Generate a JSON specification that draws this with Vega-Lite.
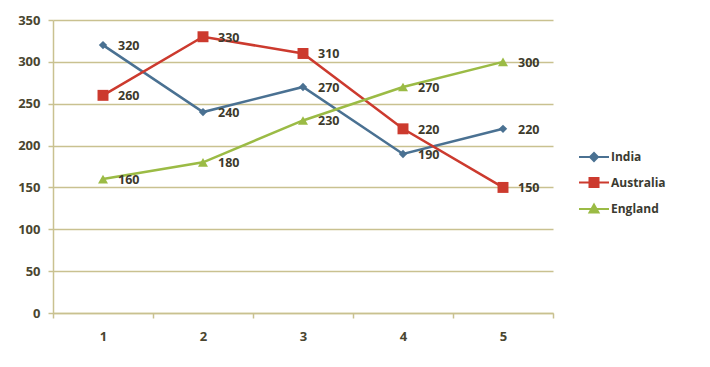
{
  "$schema": "https://vega.github.io/schema/vega-lite/v6.json",
  "width": 500,
  "height": 293,
  "autosize": {"type": "none"},
  "padding": {"left": 53, "top": 20, "right": 157, "bottom": 54},
  "background": "white",
  "config": {
    "view": {"stroke": null},
    "font": "Open Sans",
    "axis": {
      "labelFont": "Open Sans", "labelFontSize": 13, "labelFontWeight": "bold", "labelColor": "#4a4630",
      "domainColor": "#c9c190", "domainWidth": 1.5, "tickColor": "#c9c190", "tickWidth": 1.5,
      "gridColor": "#c9c190", "gridWidth": 1.5, "title": null
    }
  },
  "data": {"values": [
    {"series": "India", "x": 1, "value": 320},
    {"series": "India", "x": 2, "value": 240},
    {"series": "India", "x": 3, "value": 270},
    {"series": "India", "x": 4, "value": 190},
    {"series": "India", "x": 5, "value": 220},
    {"series": "Australia", "x": 1, "value": 260},
    {"series": "Australia", "x": 2, "value": 330},
    {"series": "Australia", "x": 3, "value": 310},
    {"series": "Australia", "x": 4, "value": 220},
    {"series": "Australia", "x": 5, "value": 150},
    {"series": "England", "x": 1, "value": 160},
    {"series": "England", "x": 2, "value": 180},
    {"series": "England", "x": 3, "value": 230},
    {"series": "England", "x": 4, "value": 270},
    {"series": "England", "x": 5, "value": 300}
  ]},
  "encoding": {
    "x": {"field": "x", "type": "ordinal",
      "scale": {"type": "band", "paddingInner": 0, "paddingOuter": 0},
      "axis": {"labelAngle": 0, "tickBand": "extent", "tickSize": 5, "labelPadding": 12, "grid": false}},
    "y": {"field": "value", "type": "quantitative",
      "scale": {"domain": [0, 350], "nice": false},
      "axis": {"values": [0, 50, 100, 150, 200, 250, 300, 350], "tickSize": 5, "labelPadding": 8, "grid": true}}
  },
  "layer": [
    {
      "mark": {"type": "line", "strokeWidth": 2.5},
      "encoding": {
        "color": {"field": "series", "type": "nominal",
          "sort": ["India", "Australia", "England"],
          "scale": {"domain": ["India", "Australia", "England"], "range": ["#4a7192", "#cc3a2e", "#9bbb45"]},
          "legend": {
            "title": null, "orient": "none", "legendX": 530, "legendY": 126, "padding": 0,
            "symbolSize": 400, "symbolStrokeWidth": 2, "labelOffset": 6, "rowPadding": 6.5,
            "labelFont": "Open Sans", "labelFontSize": 12, "labelFontWeight": "bold", "labelColor": "#3a3a30",
            "encode": {"symbols": {"update": {
              "shape": {"signal": "datum.value === 'India' ? 'M-1.5,0H1.5M-0.4,0L0,-0.4L0.4,0L0,0.4Z' : datum.value === 'Australia' ? 'M-1.5,0H1.5M-0.45,-0.45H0.45V0.45H-0.45Z' : 'M-1.5,0H1.5M-0.45,0.35L0,-0.45L0.45,0.35Z'"},
              "fill": {"signal": "datum.value === 'India' ? '#4a7192' : datum.value === 'Australia' ? '#cc3a2e' : '#9bbb45'"},
              "stroke": {"signal": "datum.value === 'India' ? '#4a7192' : datum.value === 'Australia' ? '#cc3a2e' : '#9bbb45'"},
              "fillOpacity": {"value": 1},
              "strokeWidth": {"value": 2}
            }}}
          }}
      }
    },
    {
      "transform": [{"filter": "datum.series === 'India'"}],
      "mark": {"type": "point", "filled": true, "opacity": 1, "shape": "diamond", "size": 70, "color": "#4a7192"}
    },
    {
      "transform": [{"filter": "datum.series === 'Australia'"}],
      "mark": {"type": "point", "filled": true, "opacity": 1, "shape": "square", "size": 120, "color": "#cc3a2e"}
    },
    {
      "transform": [{"filter": "datum.series === 'England'"}],
      "mark": {"type": "point", "filled": true, "opacity": 1, "shape": "triangle-up", "size": 100, "color": "#9bbb45"}
    },
    {
      "mark": {"type": "text", "align": "left", "baseline": "middle", "dx": 15, "dy": 1,
        "font": "Open Sans", "fontSize": 12.5, "fontWeight": "bold", "color": "#3d3a2c"},
      "encoding": {"text": {"field": "value", "type": "quantitative"}}
    }
  ]
}
